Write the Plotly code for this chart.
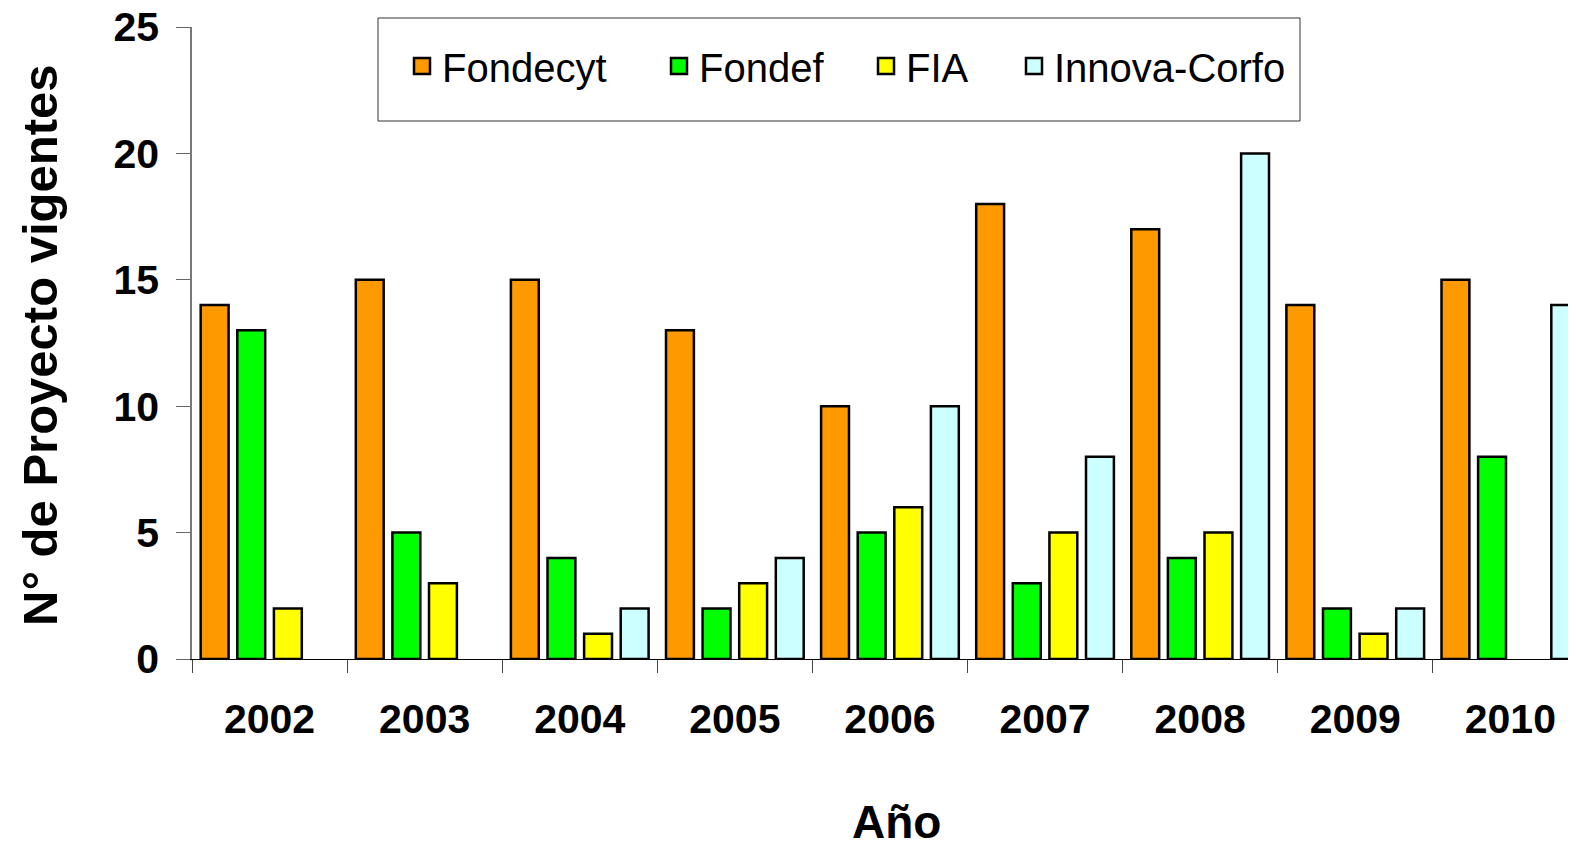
import plotly.graph_objects as go

years = ["2002", "2003", "2004", "2005", "2006", "2007", "2008", "2009", "2010"]
fondecyt = [14, 15, 15, 13, 10, 18, 17, 14, 15]
fondef = [13, 5, 4, 2, 5, 3, 4, 2, 8]
fia = [2, 3, 1, 3, 6, 5, 5, 1, 0]
innova = [0, 0, 2, 4, 10, 8, 20, 2, 14]

series_names = ["Fondecyt", "Fondef", "FIA", "Innova-Corfo"]
series_values = [fondecyt, fondef, fia, innova]
series_colors = ["#FF9900", "#00FF00", "#FFFF00", "#CCFFFF"]
legend_widths = [212, 162, 103, 243]

FONT = "Arial, 'Liberation Sans', sans-serif"

# page is rendered with an 8px body margin; work in page pixels, convert to figure pixels
OFF = 8
W, H = 1576 - OFF, 846 - OFF
L = 192 - OFF
T = 27 - OFF
Y0 = 659 - OFF
B = H - Y0
plot_w = W - L
plot_h = Y0 - T
cat_w = 155.1
xmax = -0.5 + plot_w / cat_w


def px(page_x):
    return (page_x - OFF - L) / plot_w


def py(page_y):
    return (Y0 - (page_y - OFF)) / plot_h


fig = go.Figure()
for name, vals, col in zip(series_names, series_values, series_colors):
    fig.add_trace(go.Bar(
        x=years,
        y=[v if v else None for v in vals],
        name=name,
        marker=dict(color=col, line=dict(color="black", width=2.5)),
        showlegend=False,
    ))
for name, col, lw in zip(series_names, series_colors, legend_widths):
    fig.add_trace(go.Scatter(
        x=[None], y=[None], mode="markers", name=name,
        marker=dict(symbol="square", size=16, color=col,
                    line=dict(color="black", width=2.5)),
        legendwidth=lw, showlegend=True, hoverinfo="skip",
    ))

fig.update_layout(
    width=W, height=H,
    margin=dict(l=L, r=0, t=T, b=B, pad=0, autoexpand=False),
    paper_bgcolor="white", plot_bgcolor="white",
    barmode="group", bargap=0.056, bargroupgap=0.238,
    font=dict(family=FONT, color="black"),
    showlegend=True,
    legend=dict(
        orientation="h",
        x=px(402), xanchor="left",
        y=py(66), yanchor="middle",
        font=dict(family=FONT, size=40, color="black"),
        bgcolor="rgba(0,0,0,0)", borderwidth=0,
        traceorder="normal", itemsizing="trace",
    ),
    xaxis=dict(
        type="category",
        range=[-0.5, xmax],
        tickson="boundaries",
        ticks="outside", ticklen=13, tickwidth=1, tickcolor="#444",
        showline=True, linecolor="black", linewidth=1,
        showgrid=False, zeroline=False,
        tickfont=dict(family=FONT, size=41, color="black", weight="bold"),
        ticklabelstandoff=24,
        ticklabeloverflow="allow",
        automargin=False,
    ),
    yaxis=dict(
        range=[0, 25], dtick=5, tick0=0,
        ticks="outside", ticklen=14, tickwidth=1, tickcolor="#666",
        showline=True, linecolor="#777", linewidth=1.5,
        showgrid=False, zeroline=False,
        tickfont=dict(family=FONT, size=41, color="black", weight="bold"),
        ticklabelstandoff=9,
        ticklabeloverflow="allow",
        automargin=False,
    ),
    shapes=[dict(
        type="rect", xref="paper", yref="paper",
        x0=px(378), x1=px(1300),
        y0=py(121), y1=py(18),
        line=dict(color="#333", width=1), fillcolor="rgba(0,0,0,0)",
        layer="below",
    )],
    annotations=[
        dict(text="Año", xref="paper", yref="paper",
             x=px(896), y=py(822),
             xanchor="center", yanchor="middle", showarrow=False,
             font=dict(family=FONT, size=46, color="black", weight="bold")),
        dict(text="N° de Proyecto vigentes", xref="paper", yref="paper",
             x=px(40), y=py(345),
             xanchor="center", yanchor="middle", showarrow=False, textangle=-90,
             font=dict(family=FONT, size=49, color="black", weight="bold")),
    ],
)

fig.write_html("out.html")
